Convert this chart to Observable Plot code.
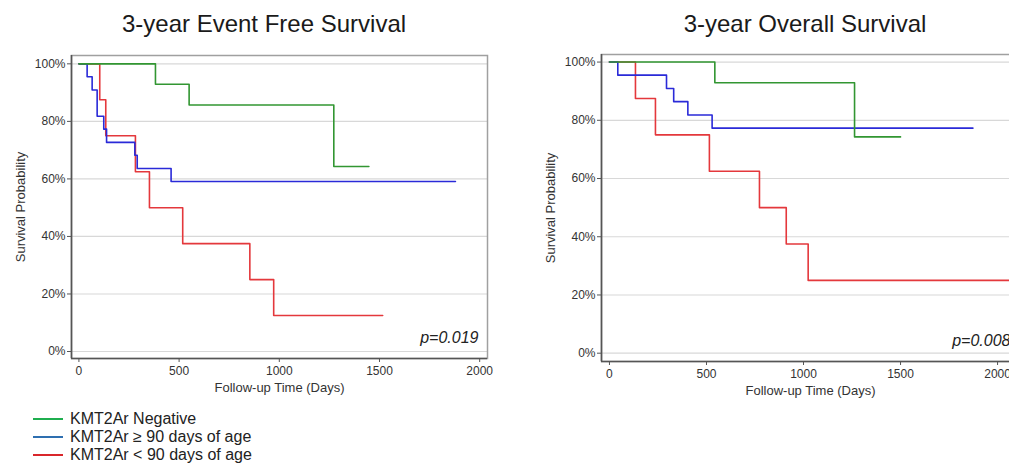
<!DOCTYPE html>
<html>
<head>
<meta charset="utf-8">
<script src="https://cdn.jsdelivr.net/npm/d3@7"></script>
<script src="https://cdn.jsdelivr.net/npm/@observablehq/plot@0.6"></script>
<style>
  html, body { margin: 0; padding: 0; background: #fff; width: 1009px; height: 468px; overflow: hidden; }
  body { position: relative; font-family: "Liberation Sans", Arial, sans-serif; color: #222; }
  .title { position: absolute; top: 10px; font-size: 24px; line-height: 28px; white-space: nowrap; transform: translateX(-50%); color: #1a1a1a; }
  .panel { position: absolute; top: 45px; width: 500px; height: 355px; }
  .panel svg { max-width: none !important; }
  .legend { position: absolute; left: 33px; top: 410px; font-size: 16px; color: #222; }
  .legend .row { display: flex; align-items: center; height: 18px; }
  .legend .sw { width: 30px; height: 2px; margin-right: 7px; }
</style>
</head>
<body>
<div class="title" style="left:264px">3-year Event Free Survival</div>
<div class="title" style="left:805px">3-year Overall Survival</div>
<div id="left" class="panel" style="left:0px"></div>
<div id="right" class="panel" style="left:530px"></div>
<div id="legend" class="legend"></div>
<script>
// ---- Data ----
const groups = ["KMT2Ar Negative", "KMT2Ar \u2265 90 days of age", "KMT2Ar < 90 days of age"];
const lineColors = ["#329632", "#2a2ad8", "#e4383c"];
const legendColors = ["#1fae4f", "#2e6fb0", "#d9262b"];

// Event free survival (days, survival proportion)
const efsNegDays = [0, 382, 550, 1272, 1447];
const efsNegSurv = [1, 0.929, 0.857, 0.643, 0.643];
const efsGe90Days = [0, 41, 66, 91, 124, 138, 279, 291, 460, 1879];
const efsGe90Surv = [1, 0.955, 0.909, 0.818, 0.773, 0.727, 0.682, 0.636, 0.591, 0.591];
const efsLt90Days = [0, 104, 134, 282, 352, 518, 853, 972, 1516];
const efsLt90Surv = [1, 0.875, 0.75, 0.625, 0.5, 0.375, 0.25, 0.125, 0.125];

// Overall survival
const osNegDays = [0, 543, 1263, 1500];
const osNegSurv = [1, 0.929, 0.743, 0.743];
const osGe90Days = [0, 43, 294, 331, 404, 529, 1873];
const osGe90Surv = [1, 0.955, 0.909, 0.864, 0.818, 0.773, 0.773];
const osLt90Days = [0, 134, 237, 515, 773, 911, 1024, 2090];
const osLt90Surv = [1, 0.875, 0.75, 0.625, 0.5, 0.375, 0.25, 0.25];

const xTicks = [0, 500, 1000, 1500, 2000];
const yTicks = [0, 0.2, 0.4, 0.6, 0.8, 1.0];
const xLabel = "Follow-up Time (Days)";
const yLabel = "Survival Probability";
const pEfs = "p=0.019";
const pOs = "p=0.008";

function series(group, days, surv) {
  return days.map((d, i) => ({group, day: d, surv: surv[i]}));
}
// draw order: red, blue, green (green on top)
const efsData = [
  ...series(groups[2], efsLt90Days, efsLt90Surv),
  ...series(groups[1], efsGe90Days, efsGe90Surv),
  ...series(groups[0], efsNegDays, efsNegSurv)
];
const osData = [
  ...series(groups[2], osLt90Days, osLt90Surv),
  ...series(groups[1], osGe90Days, osGe90Surv),
  ...series(groups[0], osNegDays, osNegSurv)
];

function panel(data, xDomain, yDomain, pText, opts) {
  return Plot.plot({
    width: 500,
    height: 355,
    marginLeft: 71,
    marginRight: opts.marginRight,
    marginTop: opts.marginTop,
    marginBottom: opts.marginBottom,
    style: {fontFamily: "'Liberation Sans', Arial, sans-serif", fontSize: "12px", color: "#333", background: "transparent", maxWidth: "none"},
    x: {domain: xDomain},
    y: {domain: yDomain},
    color: {domain: groups, range: lineColors},
    marks: [
      Plot.gridY(yTicks, {stroke: "#d8d8d8", strokeOpacity: 1, strokeWidth: 1.2}),
      Plot.frame({stroke: "#a0a0a0", strokeWidth: 1.5}),
      Plot.ruleX([xDomain[0]], {stroke: "#555", strokeWidth: 1.6}),
      Plot.ruleY([yDomain[0]], {stroke: "#555", strokeWidth: 1.6}),
      Plot.axisY(yTicks, {tickFormat: d3.format(".0%"), tickSize: 4, tickPadding: 2, stroke: "#555",
        fontSize: 12, label: null}),
      Plot.axisY([], {label: yLabel, labelAnchor: "center", labelArrow: false, labelOffset: 56, fontSize: 13}),
      Plot.axisX(xTicks, {tickFormat: d3.format("d"), tickSize: 4, tickPadding: 4, stroke: "#555", fontSize: 12,
        label: null}),
      Plot.axisX([], {label: xLabel, labelAnchor: "center", labelArrow: false, labelOffset: 33, fontSize: 13}),
      Plot.line(data, {x: "day", y: "surv", z: "group", stroke: "group", curve: "step-after", strokeWidth: 1.6}),
      Plot.text([pText], {text: d => d, frameAnchor: "bottom-right", dx: -9, dy: -16,
        fontStyle: "italic", fontSize: 16, fill: "#222", textAnchor: "end"})
    ]
  });
}

document.getElementById("left").append(
  panel(efsData, [-37, 2039], [-0.0243, 1.029], pEfs, {marginRight: 13, marginTop: 10, marginBottom: 42})
);
document.getElementById("right").append(
  panel(osData, [-41, 2113], [-0.0285, 1.026], pOs, {marginRight: 11, marginTop: 9, marginBottom: 39})
);

const leg = document.getElementById("legend");
groups.forEach((g, i) => {
  const row = document.createElement("div");
  row.className = "row";
  const sw = document.createElement("div");
  sw.className = "sw";
  sw.style.background = legendColors[i];
  const t = document.createElement("span");
  t.textContent = g;
  row.append(sw, t);
  leg.append(row);
});
</script>
</body>
</html>
